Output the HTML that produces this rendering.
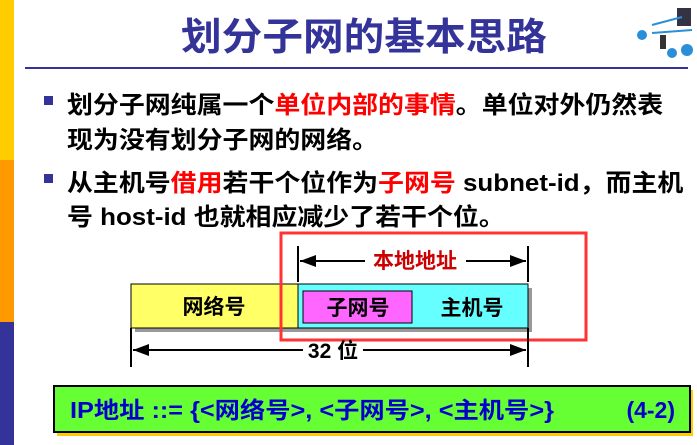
<!DOCTYPE html>
<html><head><meta charset="utf-8"><style>
body{margin:0;width:697px;height:445px;position:relative;background:#fff;overflow:hidden;font-family:"Liberation Sans","Noto Sans CJK SC",sans-serif}
.a{position:absolute}
.t{font-size:24px;font-weight:bold;color:#000;white-space:nowrap;left:67px;transform:scaleX(1.08);transform-origin:0 0}
.r{color:#f00}
.b{position:absolute;left:44px;width:9px;height:9px;background:#333399}
</style></head><body>
<div class="a" style="left:0;top:0;width:14px;height:160px;background:#ffcc00"></div>
<div class="a" style="left:0;top:160px;width:14px;height:162px;background:#ff9900"></div>
<div class="a" style="left:0;top:322px;width:14px;height:123px;background:#333399"></div>
<div class="a" style="left:181px;top:16px;font-size:38px;font-weight:bold;color:#333399;line-height:44px;white-space:nowrap;transform:scaleX(1.07);transform-origin:0 0">划分子网的基本思路</div>
<svg class="a" style="left:632px;top:5px" width="65" height="55"><g fill="#2a8fd8"><circle cx="10" cy="30" r="5"/><circle cx="55" cy="45" r="6"/><circle cx="40" cy="48" r="5"/></g><rect x="45" y="3" width="14" height="18" fill="#334"/><rect x="28" y="30" width="6" height="14" fill="#333"/><path d="M20 20 L50 12 M20 28 L60 25" stroke="#2a8fd8" stroke-width="2"/></svg>
<div class="a" style="left:25px;top:67px;width:663px;height:2px;background:#333399"></div>
<div class="b" style="top:96px"></div>
<div class="a t" style="top:85px">划分子网纯属一个<span class="r">单位内部的事情</span>。单位对外仍然表</div>
<div class="a t" style="top:120px">现为没有划分子网的网络。</div>
<div class="b" style="top:174px"></div>
<div class="a t" style="top:163px">从主机号<span class="r">借用</span>若干个位作为<span class="r">子网号</span> subnet-id，而主机</div>
<div class="a t" style="top:197px">号 host-id 也就相应减少了若干个位。</div>
<svg class="a" style="left:0;top:0" width="697" height="445">
<defs><marker id="m" markerWidth="8" markerHeight="6" refX="8" refY="3" orient="auto"><path d="M0,0 L8,3 L0,6z" fill="#000"/></marker></defs>
<rect x="135" y="288" width="397" height="44" fill="#999"/>
<rect x="131" y="284" width="167" height="44" fill="#ffff66" stroke="#000"/>
<rect x="298" y="284" width="230" height="44" fill="#66ffff" stroke="#000"/>
<rect x="303" y="291" width="109" height="32" fill="#ff66ff" stroke="#000"/>
<rect x="281" y="233" width="305" height="107" fill="none" stroke="#f33" stroke-width="3"/>
<g stroke="#000" stroke-width="2"><line x1="298" y1="246" x2="298" y2="282"/><line x1="528" y1="246" x2="528" y2="282"/>
<line x1="131" y1="328" x2="131" y2="367"/><line x1="528" y1="328" x2="528" y2="367"/>
<line x1="365" y1="261" x2="300" y2="261" marker-end="url(#m)"/><line x1="466" y1="261" x2="526" y2="261" marker-end="url(#m)"/>
<line x1="303" y1="350" x2="133" y2="350" marker-end="url(#m)"/><line x1="363" y1="350" x2="526" y2="350" marker-end="url(#m)"/></g>
<g font-weight="bold" font-size="21" text-anchor="middle" font-family="Liberation Sans,Noto Sans CJK SC,sans-serif">
<text x="415" y="268" fill="#cc0000">本地地址</text>
<text x="214" y="314">网络号</text><text x="358" y="315">子网号</text><text x="472" y="315">主机号</text>
<text x="333" y="358">32 位</text></g>
<rect x="57" y="390" width="636" height="46" fill="#ffcc00"/>
<rect x="54" y="386" width="636" height="46" fill="#66ff33" stroke="#000" stroke-width="2"/>
<text x="70" y="418" font-size="23" font-weight="bold" fill="#0000cc" font-family="Liberation Sans,Noto Sans CJK SC,sans-serif" transform="translate(70 0) scale(1.1 1) translate(-70 0)">IP地址 ::= {&lt;网络号&gt;, &lt;子网号&gt;, &lt;主机号&gt;}</text>
<text x="675" y="418" text-anchor="end" font-size="23" font-weight="bold" fill="#0000cc" font-family="Liberation Sans,sans-serif">(4-2)</text>
</svg>
</body></html>
